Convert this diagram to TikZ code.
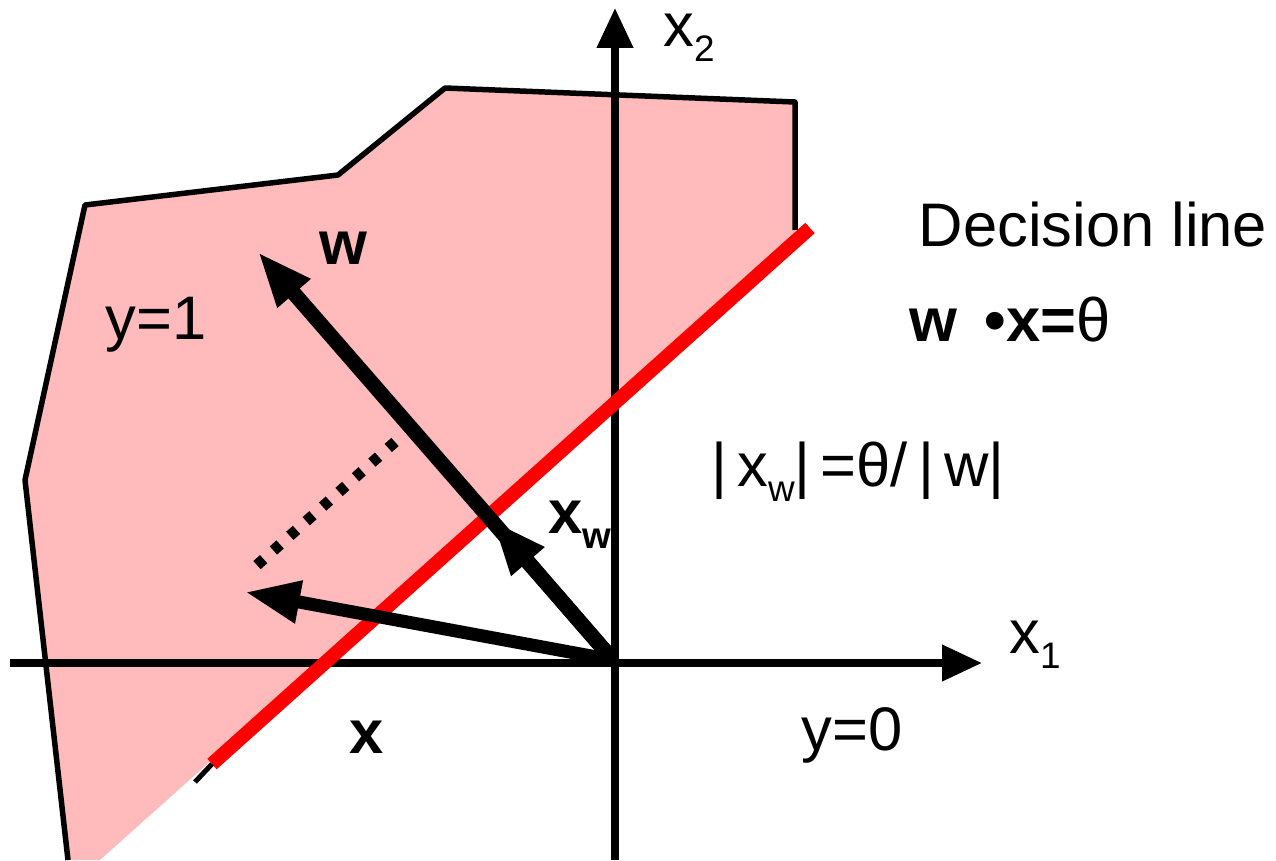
\documentclass[tikz,border=0pt]{standalone}
\usepackage{fontspec}
\setmainfont{Liberation Sans}
\usetikzlibrary{arrows.meta}
\definecolor{regionPink}{RGB}{255,187,187}
\definecolor{lineRed}{RGB}{255,0,0}
\newcommand{\BigLbl}{\fontsize{35}{42}\selectfont}
\newcommand{\LowIdx}[1]{\raisebox{-0.3cm}{\fontsize{21}{24}\selectfont #1}}

\begin{document}
\begin{tikzpicture}[x=0.02cm,y=-0.02cm,
  axis/.style={line width=0.15cm,-{Triangle[length=0.8cm,width=0.7cm]}},
  vec/.style={line width=0.3cm,-{Triangle[length=1.1cm,width=0.8cm]}},
  lbl/.style={font=\BigLbl,inner sep=0pt},
  blbl/.style={font=\BigLbl\bfseries,inner sep=0pt}]
\useasboundingbox (0,0) rectangle (1276,860);
% region y=1
\fill[regionPink] (68,860) -- (25,480) -- (85,205) -- (338,175) -- (445,88) -- (795,102) -- (795,238) -- (100,860) -- cycle;
\draw[line width=0.11cm,line join=round] (68,860) -- (25,480) -- (85,205) -- (338,175) -- (445,88) -- (795,102) -- (795,230);
% axes
\coordinate (O) at (613,660);
\coordinate (x1a) at (10,663);
\coordinate (x1b) at (982,663);
\coordinate (x2a) at (615,860);
\coordinate (x2b) at (615,8);
\draw[axis] (x1a) -- (x1b);
\draw[axis] (x2a) -- (x2b);
% decision line
\coordinate (dtop) at (810,228);
\coordinate (dbot) at (212,764);
\coordinate (dstub) at (195,782);
\draw[lineRed,line width=0.28cm] (dbot) -- (dtop);
\draw[line width=0.1cm] (dstub) -- (dbot);
% vectors
\coordinate (wtip) at (258,252);
\coordinate (xwtip) at (492,520);
\coordinate (xtip) at (245,592);
\coordinate (pa) at (395,442);
\coordinate (pb) at (256,566);
\draw[vec] (O) -- (wtip);
\draw[vec] (O) -- (xwtip);
\draw[vec,line width=0.26cm] (O) -- (xtip);
\draw[line width=0.22cm,dash pattern=on 0.18cm off 0.26cm] (pa) -- (pb);
% labels
\node[lbl] (lx1) at (1035,645) {x\LowIdx{1}};
\node[lbl] (lx2) at (689,38) {x\LowIdx{2}};
\node[lbl] (ly1) at (156,325) {y=1};
\node[lbl] (ly0) at (852,735) {y=0};
\node[lbl] (ldec) at (1093,225) {Decision line};
\node[lbl] (leq) at (1010,320) {{\bfseries w \,•x=}θ};
\node[lbl] (lnorm) at (858,472) {|\,x\LowIdx{w}|\,=θ/\,|\,w|};
\node[blbl] (lw) at (343,248) {w};
\node[blbl] (lxw) at (580,525) {x\LowIdx{w}};
\node[blbl] (lx) at (367,737) {x};
\end{tikzpicture}
\end{document}
